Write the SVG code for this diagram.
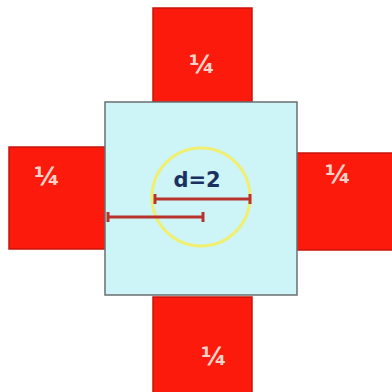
<svg xmlns="http://www.w3.org/2000/svg" width="392" height="392" viewBox="0 0 392 392">
<style>
.red{fill:#fb1a0c;stroke:#c8150c;stroke-width:1.5}
.q{font-family:"DejaVu Sans",sans-serif;font-size:25px;font-weight:bold;fill:#f6d2c8;text-anchor:middle;dominant-baseline:central}
.bar{stroke:#b8332c;stroke-width:3;fill:none}
</style>
<rect width="392" height="392" fill="#ffffff"/>
<g id="top"><rect class="red" x="153" y="8" width="99" height="94"/><text class="q" x="202" y="64">¼</text></g>
<g id="left"><rect class="red" x="9" y="147" width="97" height="102"/><text class="q" x="47" y="176">¼</text></g>
<g id="right"><rect class="red" x="297" y="153" width="96" height="97"/><text class="q" x="338" y="174">¼</text></g>
<g id="bottom"><rect class="red" x="153" y="297" width="99" height="97"/><text class="q" x="214" y="356">¼</text></g>
<g id="center">
<rect x="105" y="102" width="192" height="193" fill="#cdf4f7" stroke="#6a6f70" stroke-width="1.5"/>
<circle cx="201" cy="197" r="49" fill="none" stroke="#f0ef70" stroke-width="3"/>
<text x="197" y="180" font-family="'Comic Sans MS','DejaVu Sans',sans-serif" font-size="21" font-weight="bold" fill="#1c3060" text-anchor="middle" dominant-baseline="central">d=2</text>
<path class="bar" d="M155 199H250M155 194V204M250 194V204"/>
<path class="bar" d="M108 217H203M108 212V222M203 212V222"/>
</g>
</svg>
